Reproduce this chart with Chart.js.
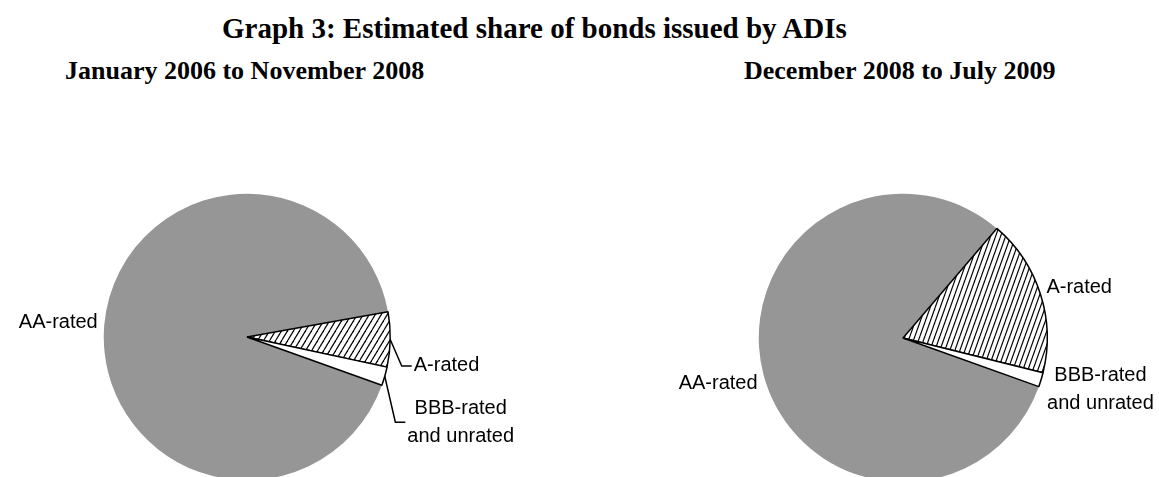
<!DOCTYPE html>
<html>
<head>
<meta charset="utf-8">
<script src="https://cdn.jsdelivr.net/npm/chart.js@4.4.0/dist/chart.umd.min.js"></script>
<style>
  html, body { margin: 0; padding: 0; width: 1159px; height: 477px; overflow: hidden; background: #fff; }
  .hd { position: absolute; font-family: "Liberation Serif", "Times New Roman", serif; font-weight: bold; color: #000; white-space: nowrap; }
  #title { left: 222px; top: 14px; font-size: 29px; line-height: 29px; }
  #subLeft { left: 65px; top: 58px; font-size: 26px; line-height: 26px; }
  #subRight { left: 744px; top: 58px; font-size: 26px; line-height: 26px; }
  canvas { position: absolute; top: 0; }
  #pieBefore { left: 0; }
  #pieAfter { left: 580px; }
</style>
</head>
<body>
<div class="hd" id="title">Graph 3: Estimated share of bonds issued by ADIs</div>
<div class="hd" id="subLeft">January 2006 to November 2008</div>
<div class="hd" id="subRight">December 2008 to July 2009</div>
<canvas id="pieBefore" width="580" height="500"></canvas>
<canvas id="pieAfter" width="579" height="500"></canvas>
<script>
// Ratings and estimated shares (per cent)
const ratingLabels = ['AA-rated', 'A-rated', 'BBB-rated and unrated'];
const labelLines = [['AA-rated'], ['A-rated'], ['BBB-rated', 'and unrated']];
const shareBefore = [91.7, 6.2, 2.1];   // Jan 2006 - Nov 2008
const shareAfter = [80.8, 17.6, 1.6];   // Dec 2008 - Jul 2009

// diagonal hatch used for the A-rated slice
function makeHatch(w, h) {
    const c = document.createElement('canvas');
    c.width = w; c.height = h;
    const g = c.getContext('2d');
    g.fillStyle = '#fff';
    g.fillRect(0, 0, w, h);
    g.strokeStyle = '#000';
    g.lineWidth = 1.2;
    for (const x0 of [-w, 0, w]) {
        g.beginPath();
        g.moveTo(x0, h);
        g.lineTo(x0 + w, 0);
        g.stroke();
    }
    return g.createPattern(c, 'repeat');
}

// labels outside the pie, optionally with an elbow leader line
const outsideLabels = {
    id: 'outsideLabels',
    afterDatasetsDraw(chart, args, opts) {
        const ctx = chart.ctx;
        const arcs = chart.getDatasetMeta(0).data;
        ctx.save();
        ctx.font = '20px "Liberation Sans", Arial, sans-serif';
        ctx.fillStyle = '#000';
        ctx.strokeStyle = '#000';
        ctx.lineWidth = 1.5;
        opts.items.forEach((it, i) => {
            const p = arcs[i].getProps(['x', 'y', 'startAngle', 'endAngle', 'outerRadius'], true);
            const mid = (p.startAngle + p.endAngle) / 2;
            const ex = p.x + Math.cos(mid) * p.outerRadius;
            const ey = p.y + Math.sin(mid) * p.outerRadius;
            const ax = ex + it.dx, ay = ey + it.dy;
            const lines = labelLines[i];
            const w = Math.max(...lines.map(l => ctx.measureText(l).width));
            const left = it.align === 'right' ? ax - w : ax;
            if (it.leader) {
                ctx.beginPath();
                ctx.moveTo(ex, ey);
                ctx.lineTo(ax - 12, ay);
                ctx.lineTo(ax - 2, ay);
                ctx.stroke();
            }
            ctx.textAlign = 'center';
            ctx.textBaseline = 'middle';
            lines.forEach((l, k) => ctx.fillText(l, left + w / 2, ay + (k - (lines.length - 1) / 2) * 28));
        });
        ctx.restore();
    }
};

function makePie(id, values, hatch, padding, items) {
    return new Chart(document.getElementById(id), {
        type: 'pie',
        data: {
            labels: ratingLabels,
            datasets: [{
                data: values,
                backgroundColor: ['#969696', hatch, '#ffffff'],
                borderColor: ['#969696', '#000000', '#000000'],
                borderWidth: [0, 1.5, 1.5],
                hoverOffset: 0
            }]
        },
        options: {
            responsive: false,
            animation: false,
            events: [],
            rotation: 109.7,
            layout: { padding: padding },
            plugins: {
                legend: { display: false },
                tooltip: { enabled: false },
                outsideLabels: { items: items }
            }
        },
        plugins: [outsideLabels]
    });
}

makePie('pieBefore', shareBefore, makeHatch(6, 10),
    { left: 103, right: 189, top: 193, bottom: 19 },
    [
        { dx: -6.5, dy: -3, align: 'right' },
        { dx: 23.5, dy: 26.5, align: 'left', leader: true },
        { dx: 22.6, dy: 46, align: 'left', leader: true }
    ]);

makePie('pieAfter', shareAfter, makeHatch(5, 14),
    { left: 178, right: 111, top: 193, bottom: 17 },
    [
        { dx: -6, dy: 8, align: 'right' },
        { dx: 6, dy: -7, align: 'left' },
        { dx: 6, dy: 10, align: 'left' }
    ]);
</script>
</body>
</html>
